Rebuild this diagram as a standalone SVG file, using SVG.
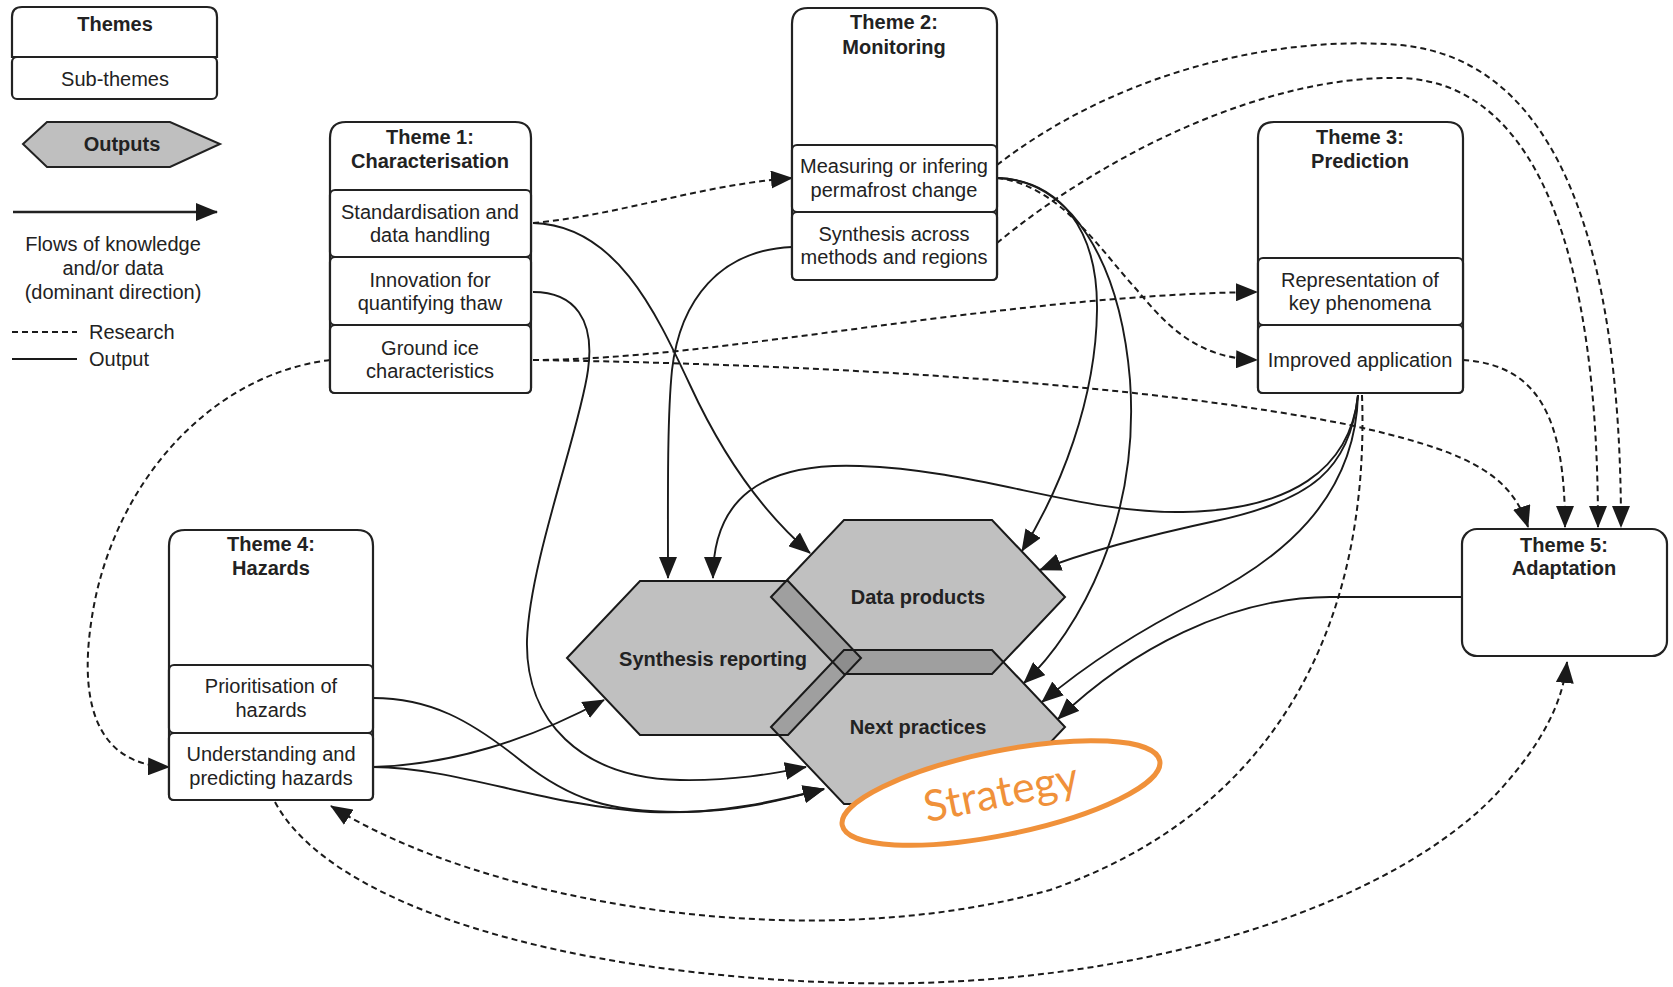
<svg xmlns="http://www.w3.org/2000/svg" width="1673" height="987" viewBox="0 0 1673 987">
<style>
text{font-family:"Liberation Sans",Arial,sans-serif;font-size:20px;fill:#222;text-anchor:middle}
.b{font-weight:bold}
.box{fill:#fff;stroke:#222;stroke-width:2.2}
.hexf{fill:#7a7a7a;fill-opacity:0.47;stroke:none}
.hexs{fill:none;stroke:#1a1a1a;stroke-width:2}
.out{fill:none;stroke:#1a1a1a;stroke-width:1.9}
.res{fill:none;stroke:#1a1a1a;stroke-width:2;stroke-dasharray:6 4}
.oa{marker-end:url(#ah)}
</style>
<defs>
<marker id="ah" markerUnits="userSpaceOnUse" markerWidth="22" markerHeight="18" viewBox="0 0 22 18" refX="21" refY="9" orient="auto">
<path d="M0,0 L22,9 L0,18 Z" fill="#1a1a1a"/>
</marker>
<polygon id="hex" points="-147,0 -74,-77 74,-77 147,0 74,77 -74,77"/>
</defs>
<rect width="1673" height="987" fill="#fff"/>

<g id="legend">
<path class="box" d="M12,57 V17 Q12,7 22,7 H207 Q217,7 217,17 V57 Z"/>
<rect class="box" x="12" y="57" width="205" height="42" rx="5"/>
<text class="b" x="115" y="31">Themes</text>
<text x="115" y="86">Sub-themes</text>
<polygon points="23,144 47,122 170,122 220,144 170,167 47,167" fill="#bfbfbf" stroke="#222" stroke-width="2"/>
<text class="b" x="122" y="151">Outputs</text>
<line x1="13" y1="212" x2="217" y2="212" stroke="#222" stroke-width="2.5" marker-end="url(#ah)"/>
<text x="113" y="251">Flows of knowledge</text>
<text x="113" y="275">and/or data</text>
<text x="113" y="299">(dominant direction)</text>
<line class="res" x1="12" y1="332" x2="77" y2="332"/>
<text x="89" y="339" style="text-anchor:start">Research</text>
<line class="out" x1="12" y1="359" x2="77" y2="359"/>
<text x="89" y="366" style="text-anchor:start">Output</text>
</g>

<g id="connectors">
<!-- research (dashed) -->
<path class="res oa" d="M533,223 C620,215 700,185 792,178"/>
<path class="res oa" d="M533,360 C720,360 1000,295 1257,292"/>
<path class="res oa" d="M533,360 C850,365 1150,385 1350,425 C1460,450 1510,470 1528,527"/>
<path class="res oa" d="M330,360 C210,375 120,480 95,600 C75,700 95,765 169,767"/>
<path class="res oa" d="M997,165 C1120,70 1280,35 1400,45 C1560,60 1621,250 1621,527"/>
<path class="res oa" d="M997,243 C1110,150 1270,75 1400,78 C1540,82 1598,260 1598,527"/>
<path class="res oa" d="M997,178 C1060,185 1100,250 1137,290 C1170,330 1200,358 1257,360"/>
<path class="res oa" d="M1463,360 C1540,365 1565,420 1565,527"/>
<path class="res oa" d="M1362,395 C1370,620 1280,810 1050,890 C800,960 480,900 331,806"/>
<path class="res oa" d="M275,802 C330,905 560,975 850,983 C1150,990 1400,900 1500,790 C1545,740 1563,700 1567,662"/>
<!-- outputs (solid) -->
<path class="out oa" d="M533,223 C615,225 655,310 690,385 C720,450 760,510 810,553"/>
<path class="out oa" d="M533,292 C575,292 595,320 588,370 C580,430 530,560 527,640 C525,720 580,778 680,780 C740,781 780,772 806,767"/>
<path class="out oa" d="M792,247 C720,250 680,300 672,370 C667,420 668,500 668,578"/>
<path class="out oa" d="M1358,395 C1350,470 1290,510 1183,512 C1080,514 980,470 860,466 C760,462 713,500 713,578"/>
<path class="out oa" d="M1358,395 C1350,470 1310,500 1220,520 C1150,535 1090,550 1040,570"/>
<path class="out oa" d="M1358,395 C1355,500 1280,560 1200,600 C1130,635 1080,670 1042,702"/>
<path class="out oa" d="M997,178 C1060,180 1098,230 1097,310 C1096,400 1060,490 1022,551"/>
<path class="out oa" d="M997,178 C1070,180 1120,260 1130,380 C1140,520 1080,630 1024,683"/>
<path class="out oa" d="M1462,597 L1330,597 C1230,597 1130,650 1058,719"/>
<path class="out oa" d="M373,698 C430,698 470,720 520,760 C570,800 610,812 680,812 C740,812 790,798 824,789"/>
<path class="out oa" d="M373,767 C450,765 530,740 604,700"/>
<path class="out oa" d="M373,767 C460,768 540,805 650,812 C720,815 780,800 824,789"/>
</g>

<g id="theme1">
<path class="box" d="M330,388 V138 Q330,122 346,122 H515 Q531,122 531,138 V388 Q531,393 526,393 H335 Q330,393 330,388 Z"/>
<rect class="box" x="330" y="190" width="201" height="67" rx="5"/>
<rect class="box" x="330" y="257" width="201" height="68" rx="5"/>
<rect class="box" x="330" y="325" width="201" height="68" rx="5"/>
<text class="b" x="430" y="144">Theme 1:</text>
<text class="b" x="430" y="168">Characterisation</text>
<text x="430" y="219">Standardisation and</text>
<text x="430" y="242">data handling</text>
<text x="430" y="287">Innovation for</text>
<text x="430" y="310">quantifying thaw</text>
<text x="430" y="355">Ground ice</text>
<text x="430" y="378">characteristics</text>
</g>

<g id="theme2">
<path class="box" d="M792,275 V24 Q792,8 808,8 H981 Q997,8 997,24 V275 Q997,280 992,280 H797 Q792,280 792,275 Z"/>
<rect class="box" x="792" y="145" width="205" height="67" rx="5"/>
<rect class="box" x="792" y="212" width="205" height="68" rx="5"/>
<text class="b" x="894" y="29">Theme 2:</text>
<text class="b" x="894" y="54">Monitoring</text>
<text x="894" y="173">Measuring or infering</text>
<text x="894" y="197">permafrost change</text>
<text x="894" y="241">Synthesis across</text>
<text x="894" y="264">methods and regions</text>
</g>

<g id="theme3">
<path class="box" d="M1258,388 V138 Q1258,122 1274,122 H1447 Q1463,122 1463,138 V388 Q1463,393 1458,393 H1263 Q1258,393 1258,388 Z"/>
<rect class="box" x="1258" y="258" width="205" height="67" rx="5"/>
<rect class="box" x="1258" y="325" width="205" height="68" rx="5"/>
<text class="b" x="1360" y="144">Theme 3:</text>
<text class="b" x="1360" y="168">Prediction</text>
<text x="1360" y="287">Representation of</text>
<text x="1360" y="310">key phenomena</text>
<text x="1360" y="367">Improved application</text>
</g>

<g id="theme4">
<path class="box" d="M169,795 V546 Q169,530 185,530 H357 Q373,530 373,546 V795 Q373,800 368,800 H174 Q169,800 169,795 Z"/>
<rect class="box" x="169" y="665" width="204" height="68" rx="5"/>
<rect class="box" x="169" y="733" width="204" height="67" rx="5"/>
<text class="b" x="271" y="551">Theme 4:</text>
<text class="b" x="271" y="575">Hazards</text>
<text x="271" y="693">Prioritisation of</text>
<text x="271" y="717">hazards</text>
<text x="271" y="761">Understanding and</text>
<text x="271" y="785">predicting hazards</text>
</g>

<g id="theme5">
<rect class="box" x="1462" y="529" width="205" height="127" rx="15"/>
<text class="b" x="1564" y="552">Theme 5:</text>
<text class="b" x="1564" y="575">Adaptation</text>
</g>

<g id="output-synthesis">
<use href="#hex" class="hexf" x="714" y="658"/>
</g>
<g id="output-data">
<use href="#hex" class="hexf" x="918" y="597"/>
</g>
<g id="output-next">
<use href="#hex" class="hexf" x="918" y="727"/>
</g>
<g id="output-outlines">
<use href="#hex" class="hexs" x="714" y="658"/>
<use href="#hex" class="hexs" x="918" y="597"/>
<use href="#hex" class="hexs" x="918" y="727"/>
<text class="b" x="713" y="666">Synthesis reporting</text>
<text class="b" x="918" y="604">Data products</text>
<text class="b" x="918" y="734">Next practices</text>
</g>

<g id="strategy">
<ellipse cx="1001" cy="793" rx="162" ry="42" transform="rotate(-11.5 1001 793)" fill="#fff" stroke="#f0913a" stroke-width="5"/>
<text x="1001" y="807" transform="rotate(-11.5 1001 793)" style="font-family:Lato,'Open Sans',sans-serif;font-size:43px;fill:#f0913a">Strategy</text>
</g>
</svg>
